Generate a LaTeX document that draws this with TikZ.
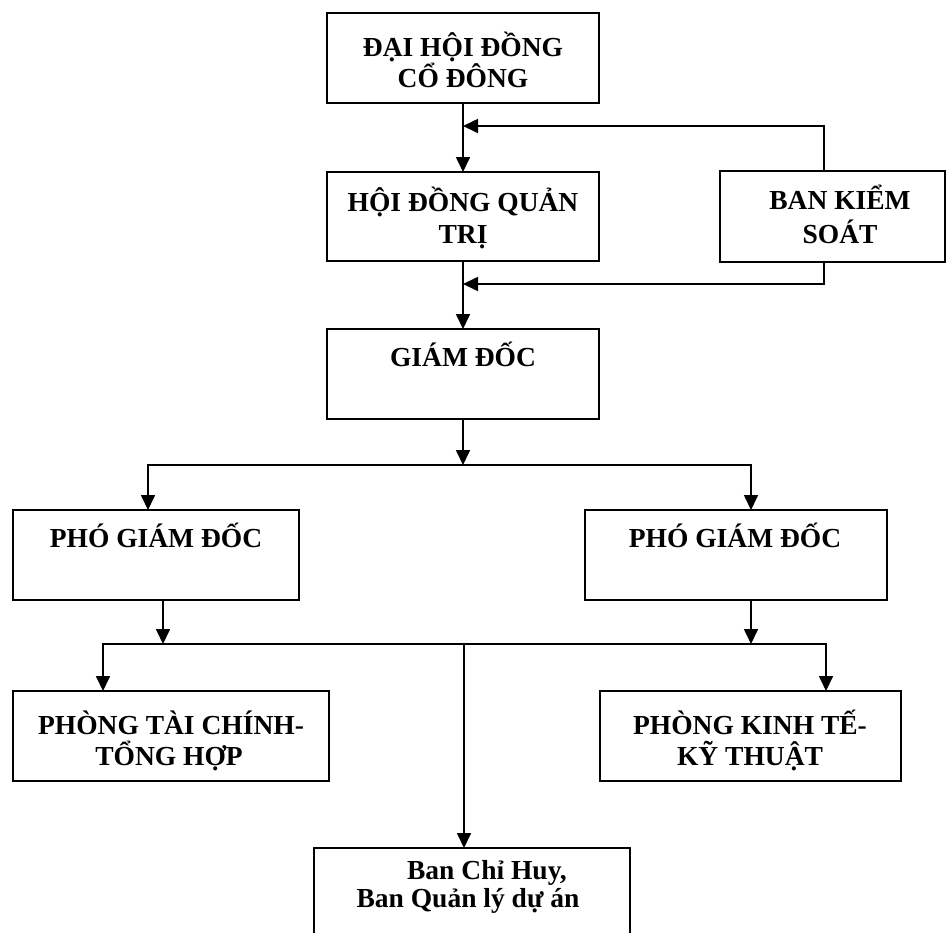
\documentclass[tikz,border=0pt]{standalone}
\usepackage{fontspec}
\setmainfont{Liberation Serif}
\usetikzlibrary{arrows.meta,calc}
\begin{document}
\begin{tikzpicture}[x=1pt,y=-1pt]
\tikzset{
  box/.style={draw, line width=1.8pt, inner sep=0pt, outer sep=0pt},
  lbl/.style={font=\fontsize{27.5}{30}\selectfont\bfseries, anchor=base, inner sep=0pt},
  arr/.style={line width=1.7pt, -{Triangle[length=15pt,width=14pt]}},
  ln/.style={line width=1.7pt}
}
\useasboundingbox (0,0) rectangle (947,932);
\clip (0,0) rectangle (947,932);
\fill[white] (0,0) rectangle (947,932);
% boxes
\node[box, minimum width=272pt, minimum height=90pt] (dh) at (463,58) {};
\node[box, minimum width=272pt, minimum height=89pt] (hd) at (463,216.5) {};
\node[box, minimum width=225pt, minimum height=91pt] (ks) at (832.5,216.5) {};
\node[box, minimum width=272pt, minimum height=90pt] (gd) at (463,374) {};
\node[box, minimum width=286pt, minimum height=90pt] (pg1) at (156,555) {};
\node[box, minimum width=302pt, minimum height=90pt] (pg2) at (736,555) {};
\node[box, minimum width=316pt, minimum height=90pt] (ptc) at (171,736) {};
\node[box, minimum width=301pt, minimum height=90pt] (pkt) at (750.5,736) {};
\node[box, minimum width=316pt, minimum height=100pt] (bch) at (472,898) {};
% labels
\node[lbl] (dh1) at (463,56) {ĐẠI HỘI ĐỒNG};
\node[lbl] (dh2) at (463,87) {CỔ ĐÔNG};
\node[lbl] (hd1) at (463,211) {HỘI ĐỒNG QUẢN};
\node[lbl] (hd2) at (463,243) {TRỊ};
\node[lbl] (ks1) at (840,209) {BAN KIỂM};
\node[lbl] (ks2) at (840,243) {SOÁT};
\node[lbl] (gd1) at (463,366) {GIÁM ĐỐC};
\node[lbl] (pg1t) at (156,547) {PHÓ GIÁM ĐỐC};
\node[lbl] (pg2t) at (735,547) {PHÓ GIÁM ĐỐC};
\node[lbl] (ptc1) at (171,734) {PHÒNG TÀI CHÍNH-};
\node[lbl] (ptc2) at (169,765) {TỔNG HỢP};
\node[lbl] (pkt1) at (750,734) {PHÒNG KINH TẾ-};
\node[lbl] (pkt2) at (750,765) {KỸ THUẬT};
\node[lbl] (bch1) at (487,879) {Ban Chỉ Huy,};
\node[lbl] (bch2) at (468,907) {Ban Quản lý dự án};
% junction coordinates
\coordinate (j1) at (463,126);
\coordinate (j2) at (463,284);
\coordinate (j3) at (463,465);
\coordinate (j4) at (464,644);
\coordinate (kx) at (824,0);
\coordinate (xa) at (148,0);
\coordinate (xb) at (751,0);
\coordinate (xc) at (163,0);
\coordinate (xd) at (103,0);
\coordinate (xe) at (826,0);
% connectors
\draw[arr] (dh) -- (hd);
\draw[arr] (ks.north -| kx) |- (j1);
\draw[arr] (hd) -- (gd);
\draw[arr] (ks.south -| kx) |- (j2);
\draw[arr] (gd.south) -- (j3);
\draw[arr] (j3) -| (pg1.north -| xa);
\draw[arr] (j3) -| (pg2.north -| xb);
\draw[arr] (pg1.south -| xc) -- (j4 -| xc);
\draw[arr] (pg2.south -| xb) -- (j4 -| xb);
\draw[arr] (j4) -| (ptc.north -| xd);
\draw[arr] (j4) -| (pkt.north -| xe);
\draw[arr] (j4) -- (bch.north -| j4);
\end{tikzpicture}
\end{document}
